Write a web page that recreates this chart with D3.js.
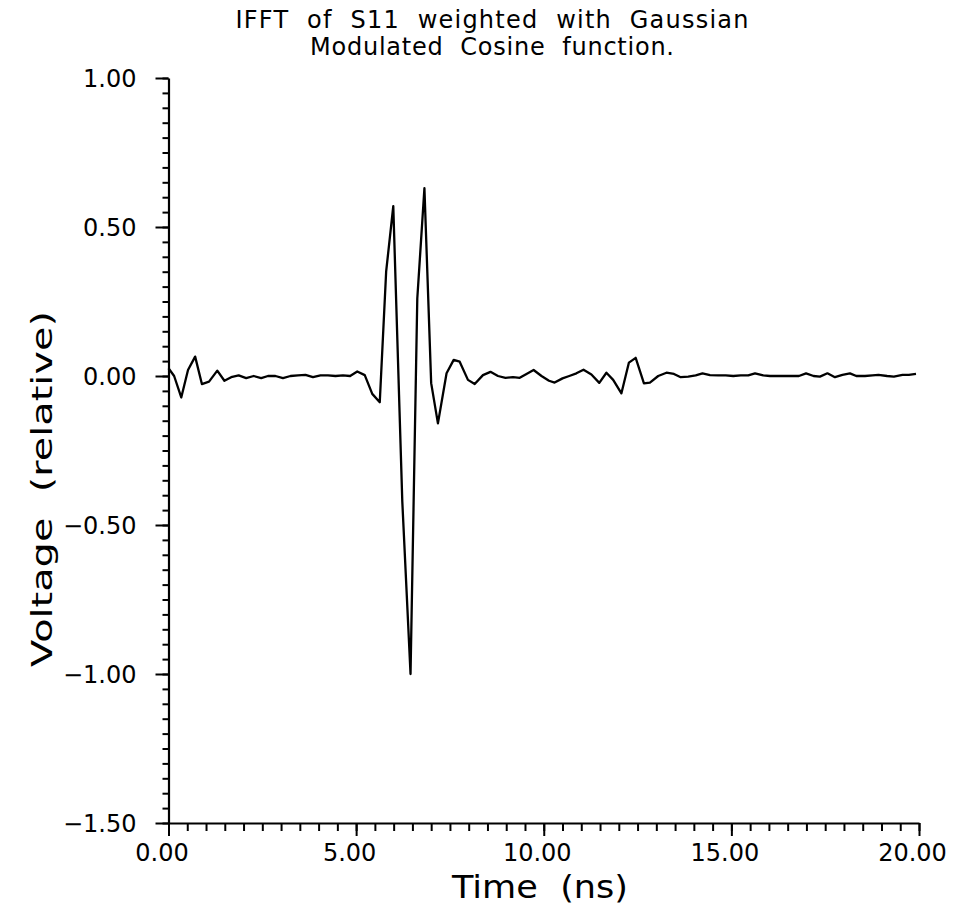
<!DOCTYPE html>
<html>
<head>
<meta charset="utf-8">
<script src="https://cdn.jsdelivr.net/npm/d3@7"></script>
<style>
  html, body { margin: 0; padding: 0; background: #fff; }
  svg { display: block; }
  text { font-family: "DejaVu Sans", sans-serif; fill: #000; }
</style>
</head>
<body>
<svg id="chart" width="957" height="909"></svg>
<script>
// ---- data ----
const titleLines = ["IFFT  of  S11  weighted  with  Gaussian", "Modulated  Cosine  function."];
const xLabel = "Time  (ns)";
const yLabel = "Voltage  (relative)";
const xMajorTicks = [0, 5, 10, 15, 20];
const xTickLabels = ["0.00", "5.00", "10.00", "15.00", "20.00"];
const yMajorTicks = [1.0, 0.5, 0.0, -0.5, -1.0, -1.5];
const yTickLabels = ["1.00", "0.50", "0.00", "\u22120.50", "\u22121.00", "\u22121.50"];

const timeNs = [
  0.00, 0.15, 0.34, 0.52, 0.71, 0.89, 1.08, 1.30, 1.49, 1.67,
  1.87, 2.07, 2.27, 2.47, 2.65, 2.85, 3.05, 3.25, 3.45, 3.65,
  3.85, 4.05, 4.25, 4.45, 4.65, 4.84, 5.03, 5.23, 5.43, 5.63,
  5.80, 5.99, 6.23, 6.45, 6.63, 6.82, 7.00, 7.18, 7.41, 7.60,
  7.76, 7.98, 8.16, 8.38, 8.58, 8.78, 8.98, 9.18, 9.36, 9.54,
  9.73, 9.94, 10.14, 10.29, 10.50, 10.68, 10.87, 11.06, 11.27, 11.48,
  11.67, 11.85, 12.07, 12.27, 12.45, 12.67, 12.83, 13.05, 13.27, 13.47,
  13.65, 13.85, 14.05, 14.23, 14.43, 14.65, 14.85, 15.05, 15.25, 15.45,
  15.63, 15.85, 16.03, 16.22, 16.42, 16.61, 16.80, 16.99, 17.19, 17.36,
  17.56, 17.76, 17.96, 18.16, 18.33, 18.56, 18.76, 18.92, 19.15, 19.33,
  19.56, 19.73, 19.92
];
const voltage = [
  0.026, 0.000, -0.072, 0.020, 0.065, -0.027, -0.019, 0.018, -0.016, -0.004,
  0.002, -0.007, 0.000, -0.007, 0.000, 0.000, -0.007, 0.000, 0.002, 0.004,
  -0.004, 0.002, 0.002, 0.000, 0.002, 0.000, 0.015, 0.003, -0.060, -0.088,
  0.350, 0.570, -0.420, -1.000, 0.260, 0.630, -0.024, -0.159, 0.009, 0.054,
  0.048, -0.013, -0.027, 0.003, 0.014, 0.000, -0.006, -0.004, -0.006, 0.007,
  0.020, 0.000, -0.016, -0.022, -0.008, 0.000, 0.009, 0.021, 0.005, -0.023,
  0.011, -0.013, -0.058, 0.045, 0.061, -0.025, -0.022, 0.000, 0.011, 0.007,
  -0.004, -0.002, 0.002, 0.009, 0.003, 0.002, 0.002, 0.000, 0.002, 0.002,
  0.009, 0.002, 0.000, 0.000, 0.000, 0.000, 0.000, 0.009, 0.000, -0.002,
  0.009, -0.004, 0.004, 0.009, 0.000, 0.000, 0.002, 0.004, 0.000, -0.002,
  0.004, 0.004, 0.007
];

// ---- drawing ----
const svg = d3.select("#chart");
const x = d3.scaleLinear().domain([0, 20]).range([168.5, 919]);
const y = d3.scaleLinear().domain([-1.5, 1.0]).range([823, 78]);

// minor ticks
const xMinor = d3.range(0, 20.001, 0.5);
const yMinor = d3.range(-1.5, 1.0001, 0.05);

const gx = svg.append("g").attr("transform", `translate(0,${y(-1.5)})`);
gx.call(d3.axisBottom(x).tickValues(xMinor).tickSize(8).tickFormat(""));
gx.call(g => g.select(".domain").remove());
const gxM = svg.append("g").attr("transform", `translate(0,${y(-1.5)})`);
gxM.call(d3.axisBottom(x).tickValues(xMajorTicks).tickSize(13).tickSizeOuter(0)
  .tickFormat((d, i) => xTickLabels[i]));

const gy = svg.append("g").attr("transform", `translate(${x(0)},0)`);
gy.call(d3.axisLeft(y).tickValues(yMinor).tickSize(6).tickFormat(""));
gy.call(g => g.select(".domain").remove());
const gyM = svg.append("g").attr("transform", `translate(${x(0)},0)`);
gyM.call(d3.axisLeft(y).tickValues(yMajorTicks).tickSize(13).tickSizeOuter(0)
  .tickFormat((d, i) => yTickLabels[i]));

svg.selectAll(".tick line").attr("stroke", "#000").attr("stroke-width", 2);
svg.selectAll(".domain").attr("stroke", "#000").attr("stroke-width", 2.2);

gxM.selectAll(".tick text")
  .attr("font-size", 24).attr("y", 0).attr("dy", 0)
  .attr("transform", "translate(-7,38)")
  .attr("font-family", "DejaVu Sans");
gyM.selectAll(".tick text")
  .attr("font-size", 24).attr("x", -32).attr("dy", "0.36em")
  .attr("font-family", "DejaVu Sans");

// data line
const line = d3.line().x((d, i) => x(timeNs[i])).y(d => y(d));
svg.append("path")
  .datum(voltage)
  .attr("fill", "none")
  .attr("stroke", "#000")
  .attr("stroke-width", 2.3)
  .attr("stroke-linejoin", "round")
  .attr("d", line);

// title
const titleWidths = [513, 364];
svg.append("g").selectAll("text").data(titleLines).join("text")
  .attr("x", 492).attr("y", (d, i) => 28 + i * 27)
  .attr("text-anchor", "middle")
  .attr("font-size", 24)
  .attr("textLength", (d, i) => titleWidths[i])
  .attr("lengthAdjust", "spacing")
  .style("white-space", "pre")
  .text(d => d);

// axis titles
svg.append("text")
  .attr("x", 540).attr("y", 898)
  .attr("text-anchor", "middle")
  .attr("font-size", 32)
  .attr("textLength", 176)
  .attr("lengthAdjust", "spacingAndGlyphs")
  .style("white-space", "pre")
  .text(xLabel);

svg.append("text")
  .attr("transform", `translate(52,489) rotate(-90)`)
  .attr("text-anchor", "middle")
  .attr("font-size", 28)
  .attr("textLength", 356)
  .attr("lengthAdjust", "spacingAndGlyphs")
  .style("white-space", "pre")
  .text(yLabel);
</script>
</body>
</html>
